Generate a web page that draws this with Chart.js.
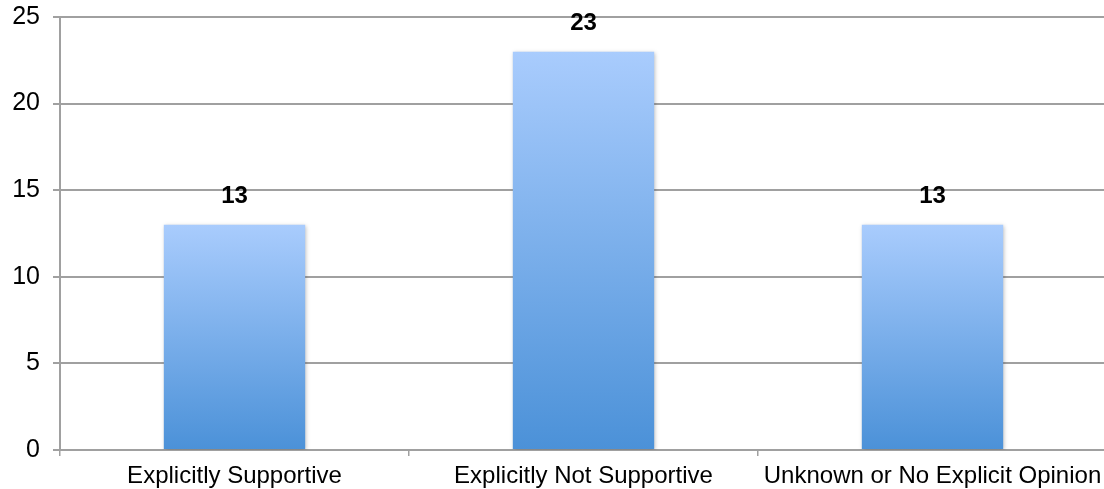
<!DOCTYPE html>
<html>
<head>
<meta charset="utf-8">
<script src="https://cdn.jsdelivr.net/npm/chart.js@4/dist/chart.umd.min.js"></script>
<style>
  html, body { margin: 0; padding: 0; background: #fff; overflow: hidden; }
  #wrap { width: 1108px; height: 489px; position: relative; }
</style>
</head>
<body>
<div id="wrap"><canvas id="myChart"></canvas></div>
<script>
let categories = ["Explicitly Supportive", "Explicitly Not Supportive", "Unknown or No Explicit Opinion"];
let counts = [13, 23, 13];
let y_ticks = [0, 5, 10, 15, 20, 25];

let grid_color = "#a0a0a0";
let top_color = "#a9ccfd";
let bottom_color = "#4b91d8";
let font_family = "'Liberation Sans', Arial, sans-serif";

// bars fade from light on top to darker at the base
function barGradient (context) {
  let chart = context.chart;
  if (!chart.chartArea || context.type !== "data") {
    return top_color;
  }
  let y = chart.scales.y;
  let top = y.getPixelForValue(context.raw);
  let base = y.getPixelForValue(0);
  let grad = chart.ctx.createLinearGradient(0, top, 0, base);
  grad.addColorStop(0, top_color);
  grad.addColorStop(1, bottom_color);
  return grad;
}

const valueLabels = {
  id: "valueLabels",
  afterDatasetsDraw (chart) {
    let ctx = chart.ctx;
    let meta = chart.getDatasetMeta(0);
    ctx.save();
    ctx.font = "bold 24px " + font_family;
    ctx.fillStyle = "#000";
    ctx.textAlign = "center";
    ctx.textBaseline = "middle";
    meta.data.forEach(function (bar, i) {
      ctx.fillText(String(counts[i]), bar.x, bar.y - 28);
    });
    ctx.restore();
  }
};

const barShadow = {
  id: "barShadow",
  beforeDatasetsDraw (chart) {
    chart.ctx.save();
    chart.ctx.shadowColor = "rgba(0,0,0,0.25)";
    chart.ctx.shadowBlur = 4;
    chart.ctx.shadowOffsetX = 1;
    chart.ctx.shadowOffsetY = 1;
  },
  afterDatasetsDraw (chart) {
    chart.ctx.restore();
  }
};

let myChart = new Chart(document.getElementById("myChart"), {
  type: "bar",
  data: {
    labels: categories,
    datasets: [{
      data: counts,
      backgroundColor: barGradient,
      borderWidth: 0,
      barPercentage: 0.5,
      categoryPercentage: 0.81
    }]
  },
  options: {
    responsive: true,
    maintainAspectRatio: false,
    animation: false,
    layout: { padding: { top: 17, right: 1, left: 0, bottom: 0 } },
    plugins: {
      legend: { display: false },
      tooltip: { enabled: false }
    },
    scales: {
      x: {
        grid: {
          display: true,
          drawOnChartArea: false,
          drawTicks: true,
          tickLength: 6,
          color: grid_color,
          lineWidth: 1.5,
          offset: true
        },
        border: { color: grid_color, width: 2 },
        ticks: {
          color: "#000",
          padding: 6,
          maxRotation: 0,
          font: { family: font_family, size: 24 }
        },
        afterFit (scale) {
          scale.height = 39;
          scale.paddingLeft = 0;
          scale.paddingRight = 0;
        }
      },
      y: {
        min: 0,
        max: 25,
        afterBuildTicks (scale) {
          scale.ticks = y_ticks.map(function (v) { return { value: v }; });
        },
        grid: {
          color: grid_color,
          lineWidth: 2,
          tickLength: 7
        },
        border: { color: grid_color, width: 2 },
        ticks: {
          color: "#000",
          padding: 13,
          font: { family: font_family, size: 25 }
        },
        afterFit (scale) {
          scale.width = 60;
          scale.paddingTop = 0;
          scale.paddingBottom = 0;
        }
      }
    }
  },
  plugins: [barShadow, valueLabels]
});
</script>
</body>
</html>
